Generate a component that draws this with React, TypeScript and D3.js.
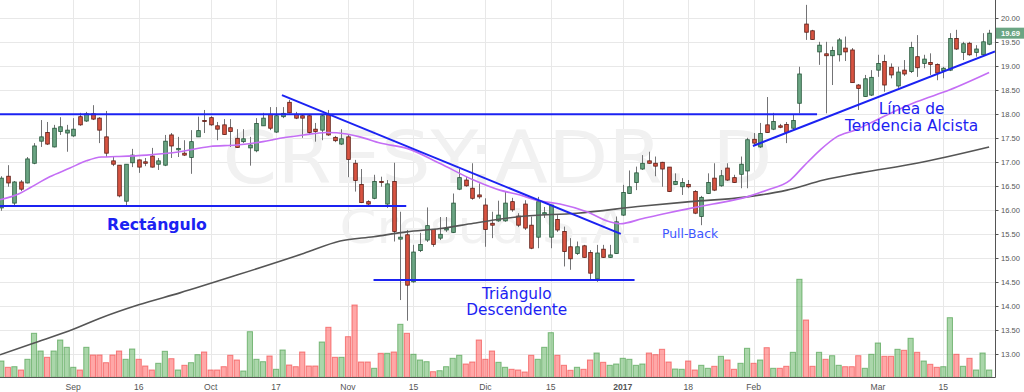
import React from "react";
import * as d3 from "d3";

// CRESY daily candles, trading-day index 0 = first session of September 2016
const firstIndex = -11;

const open = [
  16.05, 16.71, 16.15, 16.59, 16.57, 16.98, 17.44, 17.62, 17.32, 17.64,
  17.61, 17.55, 17.95, 17.86, 18.01, 17.92, 17.53, 17.03, 16.94, 16.19,
  16.99, 17.05, 17.01, 17.13, 16.96, 16.94, 17.57, 17.26, 17.19, 17.1,
  17.53, 17.87, 17.93, 17.76, 17.78, 17.72, 17.5, 17.43, 17.3, 17.24,
  17.76, 18.0, 17.63, 17.95, 18.25, 18.0, 17.97, 17.97, 17.69, 17.67,
  17.99, 17.52, 17.38, 17.53, 16.98, 16.54, 16.18, 16.25, 16.6, 16.13,
  16.6, 15.4, 15.49, 14.51, 15.16, 15.38, 15.6, 15.42, 15.59, 15.54,
  16.44, 16.63, 16.46, 16.32, 16.11, 15.73, 15.78, 15.78, 16.18, 15.88,
  16.13, 15.69, 15.44, 15.92, 15.44, 15.81, 15.56, 15.24, 15.1, 15.26,
  15.12, 14.57, 15.19, 15.02, 15.1, 15.9, 16.35, 16.58, 16.86, 17.03,
  16.98, 17.0, 16.9, 16.54, 16.49, 16.54, 16.39, 15.87, 16.35, 16.67,
  16.51, 16.88, 16.68, 16.75, 16.82, 17.48, 17.32, 17.78, 17.69, 17.76,
  17.79, 17.71, 18.23, 19.88, 19.74, 19.3, 19.26, 19.22, 19.24, 19.38,
  19.34, 18.61, 18.37, 18.4, 18.92, 19.1, 18.98, 18.59, 18.92, 18.89,
  19.2, 19.06, 19.08, 19.04, 18.91, 18.92, 19.58, 19.29, 19.48, 19.29,
  19.24, 19.46,
];

const high = [
  16.71, 16.94, 16.61, 16.63, 17.11, 17.4, 17.88, 17.84, 17.78, 17.94,
  17.78, 17.92, 18.03, 18.05, 18.19, 17.94, 18.07, 17.11, 16.94, 16.96,
  17.28, 17.06, 17.09, 17.3, 17.09, 17.57, 17.61, 17.53, 17.46, 17.67,
  17.95, 18.09, 17.96, 17.84, 17.9, 17.9, 17.69, 17.69, 17.53, 17.92,
  18.03, 18.15, 18.15, 18.15, 18.3, 18.05, 17.99, 17.99, 17.82, 17.99,
  18.09, 17.55, 17.69, 17.57, 17.05, 16.86, 16.21, 16.74, 16.7, 16.63,
  16.99, 15.97, 15.59, 15.28, 15.53, 16.06, 15.61, 15.86, 15.86, 16.35,
  16.86, 16.7, 16.98, 16.56, 16.25, 15.97, 16.2, 16.39, 16.26, 15.94,
  16.21, 15.87, 16.28, 16.07, 16.11, 15.9, 15.66, 15.42, 15.35, 15.28,
  15.17, 15.28, 15.28, 15.28, 15.87, 16.53, 16.83, 16.91, 17.15, 17.22,
  17.12, 17.01, 16.9, 16.77, 16.67, 16.63, 16.42, 16.3, 16.77, 16.98,
  16.84, 16.98, 16.74, 17.12, 17.51, 17.61, 17.82, 18.36, 18.03, 17.8,
  17.84, 17.99, 18.99, 20.28, 19.76, 19.51, 19.51, 19.41, 19.59, 19.62,
  19.38, 18.63, 18.82, 18.92, 19.24, 19.24, 19.06, 18.99, 19.13, 19.51,
  19.65, 19.24, 19.27, 19.06, 18.99, 19.69, 19.76, 19.51, 19.51, 19.44,
  19.69, 19.76,
];

const low = [
  15.99, 16.49, 16.11, 16.4, 16.56, 16.96, 17.32, 17.36, 17.31, 17.57,
  17.22, 17.53, 17.76, 17.84, 17.88, 17.4, 17.11, 16.92, 16.27, 16.11,
  16.9, 16.78, 16.92, 16.89, 16.84, 16.92, 17.09, 17.11, 17.13, 16.76,
  17.53, 17.61, 17.76, 17.46, 17.57, 17.32, 17.3, 17.4, 16.93, 17.21,
  17.76, 17.67, 17.61, 17.92, 18.02, 17.9, 17.51, 17.57, 17.43, 17.46,
  17.55, 17.42, 17.36, 16.69, 16.39, 16.15, 16.11, 16.23, 16.49, 16.05,
  15.35, 14.13, 13.7, 14.49, 15.13, 15.34, 15.24, 15.38, 15.55, 15.53,
  16.42, 16.49, 16.22, 16.24, 15.24, 15.42, 15.76, 15.76, 15.97, 15.65,
  15.59, 15.19, 15.21, 15.84, 15.21, 15.55, 14.83, 14.76, 15.07, 15.01,
  14.55, 14.51, 15.01, 15.01, 15.09, 15.88, 16.34, 16.42, 16.84, 16.97,
  16.71, 16.49, 16.38, 16.53, 16.32, 16.46, 15.92, 15.69, 16.34, 16.4,
  16.49, 16.61, 16.57, 16.46, 16.46, 17.36, 17.3, 17.61, 17.67, 17.71,
  17.4, 17.69, 18.02, 19.55, 19.55, 19.03, 18.02, 18.61, 19.1, 19.11,
  18.66, 18.09, 18.36, 18.38, 18.78, 18.47, 18.75, 18.55, 18.8, 18.86,
  18.78, 18.96, 18.82, 18.71, 18.75, 18.9, 19.34, 19.13, 19.22, 19.2,
  19.22, 19.44,
];

const close = [
  16.67, 16.57, 16.59, 16.44, 17.07, 17.34, 17.53, 17.38, 17.71, 17.74,
  17.67, 17.69, 17.78, 18.01, 17.9, 17.67, 17.19, 16.96, 16.3, 16.96,
  17.15, 16.9, 16.98, 16.9, 17.03, 17.44, 17.34, 17.29, 17.15, 17.43,
  17.66, 17.85, 17.78, 17.69, 17.58, 17.64, 17.31, 17.49, 17.36, 17.81,
  17.92, 17.71, 17.97, 18.02, 18.03, 17.92, 17.92, 17.62, 17.64, 17.97,
  17.57, 17.45, 17.49, 17.06, 16.62, 16.16, 16.13, 16.6, 16.58, 16.55,
  15.56, 15.44, 14.44, 15.13, 15.29, 15.68, 15.29, 15.5, 15.62, 16.15,
  16.68, 16.51, 16.25, 16.28, 15.6, 15.69, 15.9, 16.15, 16.01, 15.69,
  15.63, 15.21, 16.18, 15.95, 16.11, 15.59, 15.14, 14.99, 15.24, 15.02,
  14.69, 15.11, 15.02, 15.07, 15.76, 16.37, 16.49, 16.78, 16.98, 16.98,
  16.92, 16.86, 16.39, 16.6, 16.58, 16.49, 15.94, 16.27, 16.58, 16.42,
  16.72, 16.63, 16.58, 16.96, 17.47, 17.4, 17.6, 17.62, 17.85, 17.73,
  17.62, 17.87, 18.84, 19.71, 19.56, 19.44, 19.22, 19.33, 19.55, 19.3,
  18.66, 18.54, 18.74, 18.77, 19.06, 18.61, 18.82, 18.88, 18.84, 19.39,
  18.97, 19.15, 19.04, 18.86, 18.96, 19.58, 19.36, 19.47, 19.24, 19.36,
  19.51, 19.69,
];

// volume, thousands of shares
const volume = [
  163, 100, 106, 73, 180, 440, 263, 200, 263, 373,
  300, 100, 73, 300, 223, 223, 146, 223, 263, 180,
  283, 180, 113, 73, 140, 260, 186, 73, 120, 146,
  226, 253, 73, 73, 106, 220, 173, 63, 456, 180,
  156, 213, 80, 273, 123, 106, 253, 113, 113, 353,
  500, 200, 200, 406, 723, 153, 153, 90, 240, 240,
  253, 530, 440, 230, 173, 156, 56, 66, 106, 190,
  220, 133, 153, 373, 180, 263, 150, 100, 80, 73,
  53, 220, 180, 300, 446, 220, 120, 70, 100, 80,
  173, 243, 150, 120, 133, 190, 180, 120, 133, 243,
  226, 280, 153, 83, 80, 163, 73, 120, 90, 110,
  210, 173, 80, 140, 290, 140, 173, 296, 90, 90,
  110, 250, 980, 573, 110, 250, 180, 216, 120, 106,
  106, 216, 90, 230, 343, 210, 210, 280, 270, 390,
  250, 163, 130, 100, 106, 596, 230, 110, 190, 73,
  243, 73,
];

// moving averages as [session index, price]
const sma50: [number, number][] = [
  [-11.2, 16.22], [-8.2, 16.35], [-6.6, 16.47], [-3.6, 16.7], [-0.5, 16.88],
  [2, 17.03], [4.3, 17.11], [6.6, 17.12], [11.2, 17.15], [16.3, 17.22],
  [20.9, 17.33], [25, 17.36], [29, 17.43], [31.6, 17.5], [35.2, 17.57],
  [38.7, 17.62], [41.8, 17.59], [43.8, 17.53], [46.9, 17.4], [51, 17.29],
  [56, 16.98], [61.2, 16.63], [65.2, 16.42], [68.3, 16.32], [70.8, 16.21],
  [74.4, 16.13], [78.5, 15.97], [82, 15.76], [83.6, 15.72], [87.1, 15.83],
  [90.7, 15.94], [94.3, 16.04], [97.8, 16.13], [103, 16.28], [106, 16.42],
  [109.6, 16.63], [111.6, 16.91], [114.2, 17.26], [116.7, 17.53], [119.5, 17.67],
  [123.8, 17.95], [128.9, 18.26], [134, 18.51], [140, 18.87],
];

const sma200: [number, number][] = [
  [-11.2, 12.99], [-6.1, 13.23], [0, 13.52], [4.1, 13.75], [10, 14.03],
  [16.3, 14.28], [25, 14.65], [35.2, 15.1], [40.8, 15.36], [45.9, 15.45],
  [51, 15.55], [56.1, 15.62], [61.2, 15.73], [68.3, 15.87], [77, 15.94],
  [87.1, 16.09], [94.3, 16.18], [103, 16.28], [109.1, 16.42], [114.7, 16.63],
  [120.3, 16.78], [128.9, 16.98], [140, 17.32],
];

// time axis labels (session index of each label)
const tickIndex = [0, 10, 21, 31, 42, 52, 63, 73, 84, 94, 104, 123, 133];
const tickLabel = ["Sep", "16", "Oct", "17", "Nov", "15", "Dic", "15", "2017", "18", "Feb", "Mar", "15"];

const priceTicks = [13, 13.5, 14, 14.5, 15, 15.5, 16, 16.5, 17, 17.5, 18, 18.5, 19, 19.5, 20];

// chart-pattern study lines, endpoints as [session index, price]
const studyLines: [number, number][][] = [
  [[-11.2, 18.0], [113.7, 18.0]],
  [[-11.2, 16.09], [50.9, 16.09]],
  [[31.9, 18.4], [83.7, 15.51]],
  [[45.9, 14.55], [85.8, 14.55]],
  [[103.9, 17.34], [140.9, 19.31]],
];

const UP = "#6ba583";
const UP_BORDER = "#225437";
const DOWN = "#d75442";
const DOWN_BORDER = "#5b1a13";
const WICK = "#737375";
const BLUE = "#1b22f2";
const TEXT_FONT = "'DejaVu Sans', Verdana, sans-serif";
const AXIS_FONT = "'Liberation Sans', Arial, sans-serif";

export default function App() {
  const W = 1024;
  const H = 392;
  const plotW = 995;
  const plotH = 377;

  const x = d3.scaleLinear().domain([-11.2, 140.9]).range([0, plotW]);
  const y = d3.scaleLinear().domain([12.5, 20]).range([378.3, 18.3]);
  const yVol = d3.scaleLinear().domain([0, 1000]).range([377.3, 277.3]);

  const bars = open.map((o, i) => ({
    idx: firstIndex + i,
    o,
    h: high[i],
    l: low[i],
    c: close[i],
    v: volume[i],
  }));

  const maLine = d3
    .line<[number, number]>()
    .x((d) => x(d[0]))
    .y((d) => y(d[1]))
    .curve(d3.curveMonotoneX);

  const bodyW = 3.6;
  const volW = 5.2;
  const last = bars[bars.length - 1];

  return (
    <svg
      width={W}
      height={H}
      style={{ position: "absolute", left: 0, top: 0, background: "#fff" }}
    >
      <defs>
        <clipPath id="plotArea">
          <rect x={0} y={0} width={plotW} height={plotH} />
        </clipPath>
      </defs>
      <rect x={0} y={0} width={W} height={H} fill="#fff" />

      <g clipPath="url(#plotArea)">
        {/* grid */}
        {priceTicks.map((p) => (
          <line key={"h" + p} x1={0} x2={plotW} y1={Math.round(y(p)) + 0.5} y2={Math.round(y(p)) + 0.5} stroke="#e8e8e8" />
        ))}
        {tickIndex.map((t) => (
          <line key={"v" + t} x1={Math.round(x(t)) + 0.5} x2={Math.round(x(t)) + 0.5} y1={0} y2={plotH} stroke="#e8e8e8" />
        ))}

        {/* symbol watermark */}
        <text
          x={plotW / 2}
          y={183}
          textAnchor="middle"
          fontFamily={TEXT_FONT}
          fontSize={73}
          fill="#f1f1f1"
          textLength={550}
          lengthAdjust="spacingAndGlyphs"
        >
          CRESY:ADR, D
        </text>
        <text
          x={492}
          y={243}
          textAnchor="middle"
          fontFamily={TEXT_FONT}
          fontSize={46}
          fill="#f2f2f2"
          textLength={305}
          lengthAdjust="spacingAndGlyphs"
        >
          Cresud S.A.
        </text>

        {/* volume */}
        {bars.map((b) => {
          const up = b.c >= b.o;
          const top = yVol(b.v);
          return (
            <rect
              key={"vol" + b.idx}
              x={x(b.idx) - volW / 2}
              y={top}
              width={volW}
              height={yVol(0) - top}
              fill={up ? "rgba(100,180,100,0.55)" : "rgba(255,80,80,0.5)"}
              stroke={up ? "rgba(60,150,60,0.6)" : "rgba(240,60,60,0.6)"}
              strokeWidth={1}
            />
          );
        })}

        {/* candles */}
        {bars.map((b) => {
          const up = b.c >= b.o;
          const cx = Math.round(x(b.idx)) + 0.5;
          const yTop = y(Math.max(b.o, b.c));
          const yBot = y(Math.min(b.o, b.c));
          return (
            <g key={"c" + b.idx}>
              <line x1={cx} x2={cx} y1={y(b.h)} y2={y(b.l)} stroke={WICK} strokeWidth={1} />
              <rect
                x={cx - bodyW / 2}
                y={yTop}
                width={bodyW}
                height={Math.max(1, yBot - yTop)}
                fill={up ? UP : DOWN}
                stroke={up ? UP_BORDER : DOWN_BORDER}
                strokeWidth={0.8}
              />
            </g>
          );
        })}

        {/* moving averages */}
        <path d={maLine(sma200) || ""} fill="none" stroke="#555555" strokeWidth={1.6} />
        <path d={maLine(sma50) || ""} fill="none" stroke="#c46ef5" strokeWidth={1.6} />

        {/* study lines */}
        {studyLines.map((seg, i) => (
          <line
            key={"s" + i}
            x1={x(seg[0][0])}
            y1={y(seg[0][1])}
            x2={x(seg[1][0])}
            y2={y(seg[1][1])}
            stroke={BLUE}
            strokeWidth={2}
          />
        ))}

        {/* pattern labels */}
        <text x={x(12.8)} y={y(15.59)} textAnchor="middle" fontFamily={TEXT_FONT} fontSize={15.7} fontWeight="bold" fill={BLUE}>
          Rectángulo
        </text>
        <text x={x(67.8)} y={y(14.16)} textAnchor="middle" fontFamily={TEXT_FONT} fontSize={15.3} fill={BLUE}>
          Triángulo
        </text>
        <text x={x(67.8)} y={y(13.81)} textAnchor="middle" fontFamily={TEXT_FONT} fontSize={15.3} fill={BLUE}>
          Descendente
        </text>
        <text x={x(90.0)} y={y(15.43)} fontFamily={TEXT_FONT} fontSize={12.4} fill="#3c55ff">
          Pull-Back
        </text>
        <text x={x(128.15)} y={y(18.01)} textAnchor="middle" fontFamily={TEXT_FONT} fontSize={15.4} fill={BLUE}>
          Línea de
        </text>
        <text x={x(128.15)} y={y(17.66)} textAnchor="middle" fontFamily={TEXT_FONT} fontSize={15.4} fill={BLUE}>
          Tendencia Alcista
        </text>
      </g>

      {/* price axis */}
      <line x1={plotW + 0.5} x2={plotW + 0.5} y1={0} y2={plotH + 0.5} stroke="#555" />
      {priceTicks.map((p) => (
        <g key={"pt" + p}>
          <line x1={plotW + 0.5} x2={plotW + 3.5} y1={Math.round(y(p)) + 0.5} y2={Math.round(y(p)) + 0.5} stroke="#555" />
          <text x={1001} y={y(p)} dy="0.35em" fontFamily={AXIS_FONT} fontSize={7.6} fill="#555">
            {p.toFixed(2)}
          </text>
        </g>
      ))}
      <rect x={996} y={y(last.c) - 5.5} width={28} height={11} fill={UP} />
      <text x={1001} y={y(last.c)} dy="0.35em" fontFamily={AXIS_FONT} fontSize={7.6} fontWeight="bold" fill="#fff">
        {last.c.toFixed(2)}
      </text>

      {/* time axis */}
      <line x1={0} x2={plotW + 0.5} y1={plotH + 0.5} y2={plotH + 0.5} stroke="#555" />
      {tickIndex.map((t, i) => (
        <text
          key={"tl" + t}
          x={x(t)}
          y={389.5}
          textAnchor="middle"
          fontFamily={AXIS_FONT}
          fontSize={8.6}
          fontWeight={tickLabel[i] === "2017" ? "bold" : "normal"}
          fill="#555"
        >
          {tickLabel[i]}
        </text>
      ))}
    </svg>
  );
}
